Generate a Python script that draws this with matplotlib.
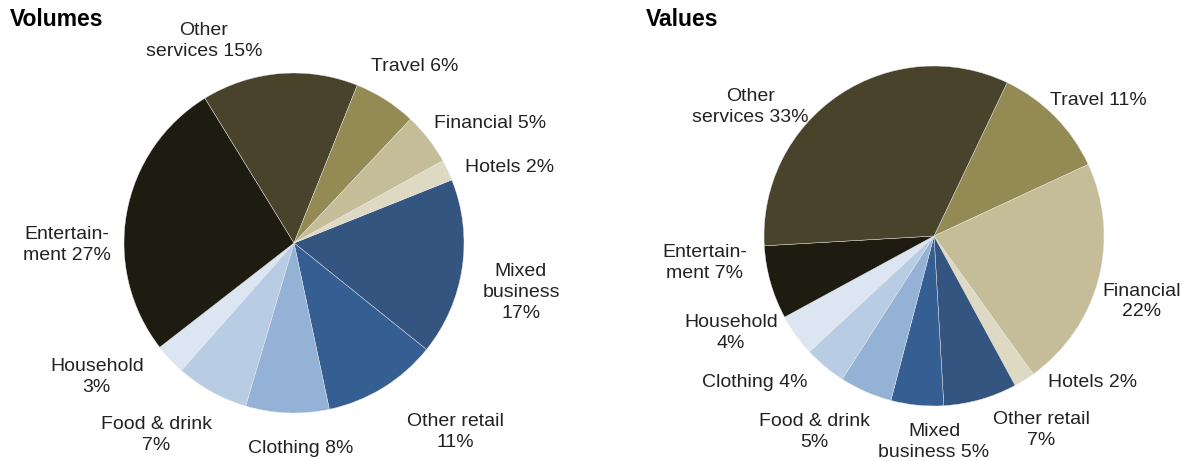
import matplotlib.pyplot as plt

plt.rcParams['font.family'] = ['Liberation Sans', 'DejaVu Sans']

# Volumes pie, clockwise from the Hotels / Mixed business boundary
vol_labels = ["Mixed\nbusiness\n17%", "Other retail\n11%", "Clothing 8%", "Food & drink\n7%",
              "Household\n3%", "Entertain-\nment 27%", "Other\nservices 15%", "Travel 6%",
              "Financial 5%", "Hotels 2%"]
vol_values = [17, 11, 8, 7, 3, 27, 15, 6, 5, 2]

# Values pie, clockwise from the Other services / Travel boundary
val_labels = ["Travel 11%", "Financial\n22%", "Hotels 2%", "Other retail\n7%",
              "Mixed\nbusiness 5%", "Food & drink\n5%", "Clothing 4%", "Household\n4%",
              "Entertain-\nment 7%", "Other\nservices 33%"]
val_values = [11, 22, 2, 7, 5, 5, 4, 4, 7, 33]

vol_colors = ["#33557f", "#355f93", "#94b1d6", "#b8cce4", "#dce6f2",
              "#1e1b10", "#49432b", "#948b54", "#c4bd97", "#ddd9c3"]
val_colors = ["#948b54", "#c4bd97", "#ddd9c3", "#33557f", "#355f93",
              "#94b1d6", "#b8cce4", "#dce6f2", "#1e1b10", "#49432b"]

# label positions in units of the pie radius
vol_label_pos = [(1.335, -0.29), (0.95, -1.11), (0.04, -1.21), (-0.81, -1.13),
                 (-1.16, -0.79), (-1.335, -0.01), (-0.53, 1.19), (0.71, 1.04),
                 (1.155, 0.70), (1.27, 0.445)]
val_label_pos = [(0.965, 0.80), (1.22, -0.385), (0.935, -0.864), (0.633, -1.142),
                 (0.0, -1.213), (-0.704, -1.154), (-1.053, -0.864), (-1.195, -0.568),
                 (-1.349, -0.16), (-1.08, 0.757)]

W, H = 1186, 461
R = 170
L = 1.6
fig = plt.figure(figsize=(W / 100, H / 100), dpi=100)


def draw_pie(cx, cy, values, labels, colors, start, label_pos):
    size = 2 * L * R
    ax = fig.add_axes([(cx - size / 2) / W, (H - cy - size / 2) / H, size / W, size / H])
    ax.pie(values, colors=colors, startangle=start, counterclock=False, radius=1,
           wedgeprops=dict(linewidth=0.3, edgecolor="#e8e8e8"))
    ax.set_xlim(-L, L)
    ax.set_ylim(-L, L)
    ax.set_aspect("auto")
    ax.axis("off")
    for lab, (x, y) in zip(labels, label_pos):
        ax.text(x, y, lab, ha="center", va="center", multialignment="center",
                fontsize=14, color="#222222", linespacing=1.3)
    return ax


draw_pie(294, 243, vol_values, vol_labels, vol_colors, 21.8, vol_label_pos)
draw_pie(934, 236, val_values, val_labels, val_colors, 64.5, val_label_pos)

fig.text(10 / W, 1 - 20 / H, "Volumes", fontsize=16.5, fontweight="bold", va="center", ha="left")
fig.text(646 / W, 1 - 20 / H, "Values", fontsize=16.5, fontweight="bold", va="center", ha="left")

fig.savefig("out.png", dpi=100, facecolor="white")
